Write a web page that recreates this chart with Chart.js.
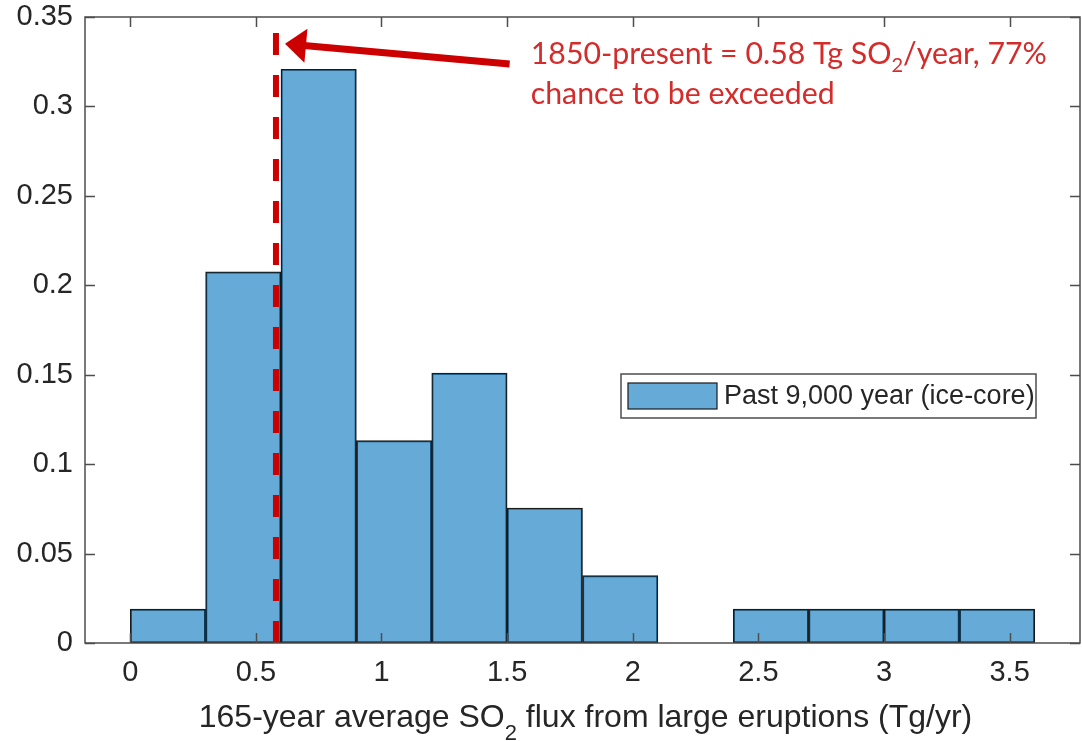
<!DOCTYPE html>
<html><head><meta charset="utf-8">
<script src="https://cdn.jsdelivr.net/npm/chart.js@4.4.1/dist/chart.umd.min.js"></script>
<style>html,body{margin:0;padding:0;background:#fff;}canvas{display:block;}</style>
</head><body>
<canvas id="c" width="1082" height="741"></canvas>
<script>
// ---- data ----
const binCenters = [0.15, 0.45, 0.75, 1.05, 1.35, 1.65, 1.95, 2.25, 2.55, 2.85, 3.15, 3.45];
const probabilities = [0.0189, 0.2075, 0.3208, 0.1132, 0.1509, 0.0755, 0.0377, 0, 0.0189, 0.0189, 0.0189, 0.0189];
const seriesLabel = 'Past 9,000 year (ice-core)';
const presentFlux = 0.58;
const xTicks = [0, 0.5, 1, 1.5, 2, 2.5, 3, 3.5];
const yTicks = [0, 0.05, 0.1, 0.15, 0.2, 0.25, 0.3, 0.35];
const xLimits = [-0.18, 3.78];
const yLimits = [0, 0.35];
const xTitleParts = [['165-year average SO', false], ['2', true], [' flux from large eruptions (Tg/yr)', false]];
const noteLine1 = [['1850-present = 0.58 Tg SO', false], ['2', true], ['/year, 77%', false]];
const noteLine2 = 'chance to be exceeded';
// annotation anchors (data units)
const arrowTail = [1.51, 0.3237];
const arrowTip = [0.616, 0.335];
const noteAnchor = [1.594, 0.3236];

// ---- styles ----
const axisFont = "'Liberation Sans', Arial, sans-serif";
const noteFontFamily = "Lato, 'Open Sans', sans-serif";
const ink = '#262626';
const barFill = 'rgba(0,114,189,0.6)';
const noteColor = '#d42b2b';
const arrowColor = '#cc0000';

function drawParts(ctx, parts, x, yBase, size, subSize, subDrop, family) {
  let cx = x;
  for (const [txt, sub] of parts) {
    ctx.font = (sub ? subSize : size) + 'px ' + family;
    ctx.fillText(txt, cx, yBase + (sub ? subDrop : 0));
    cx += ctx.measureText(txt).width;
  }
}
function partsWidth(ctx, parts, size, subSize, family) {
  let w = 0;
  for (const [txt, sub] of parts) {
    ctx.font = (sub ? subSize : size) + 'px ' + family;
    w += ctx.measureText(txt).width;
  }
  return w;
}

const decorations = {
  id: 'decorations',
  afterDatasetsDraw(chart) {
    const {ctx, chartArea: a, scales: {x, y}} = chart;
    ctx.save();
    // axes box
    ctx.strokeStyle = '#4d4d4d';
    ctx.lineWidth = 1.5;
    ctx.strokeRect(a.left, a.top, a.right - a.left, a.bottom - a.top);
    // inward ticks on all sides
    ctx.beginPath();
    const tl = 10;
    x.ticks.forEach(t => {
      const px = Math.round(x.getPixelForValue(t.value)) + 0.5;
      ctx.moveTo(px, a.bottom); ctx.lineTo(px, a.bottom - tl);
      ctx.moveTo(px, a.top); ctx.lineTo(px, a.top + tl);
    });
    y.ticks.forEach(t => {
      const py = Math.round(y.getPixelForValue(t.value)) + 0.5;
      ctx.moveTo(a.left, py); ctx.lineTo(a.left + tl, py);
      ctx.moveTo(a.right, py); ctx.lineTo(a.right - tl, py);
    });
    ctx.lineWidth = 1.5;
    ctx.stroke();

    // legend (from the histogram dataset)
    const ds = chart.data.datasets.find(d => d.type === 'bar');
    const lw = 415, lh = 44;
    const lx = a.right - 44 - lw, ly = 374;
    ctx.fillStyle = '#fff';
    ctx.fillRect(lx, ly, lw, lh);
    ctx.strokeStyle = '#4d4d4d'; ctx.lineWidth = 1.5;
    ctx.strokeRect(lx, ly, lw, lh);
    ctx.fillStyle = ds.backgroundColor;
    ctx.fillRect(lx + 7, ly + 9, 89, 26);
    ctx.strokeStyle = '#1a1a1a'; ctx.lineWidth = 1.2;
    ctx.strokeRect(lx + 7, ly + 9, 89, 26);
    ctx.fillStyle = ink;
    ctx.font = '27px ' + axisFont;
    ctx.textBaseline = 'middle';
    ctx.fillText(ds.label, lx + 103, ly + lh / 2 + 1);

    // x-axis title with subscript
    ctx.textBaseline = 'alphabetic';
    const tw = partsWidth(ctx, xTitleParts, 32, 22, axisFont);
    drawParts(ctx, xTitleParts, (a.left + a.right) / 2 - tw / 2 + 3, 727, 32, 22, 13, axisFont);

    // arrow
    const tx = x.getPixelForValue(arrowTip[0]), ty = y.getPixelForValue(arrowTip[1]);
    const sx = x.getPixelForValue(arrowTail[0]), sy = y.getPixelForValue(arrowTail[1]);
    const dx = sx - tx, dy = sy - ty, len = Math.hypot(dx, dy);
    const ux = dx / len, uy = dy / len, nx = -uy, ny = ux;
    const headLen = 21, headHalf = 17;
    const bx = tx + ux * headLen, by = ty + uy * headLen;
    ctx.strokeStyle = arrowColor; ctx.fillStyle = arrowColor;
    ctx.lineWidth = 7; ctx.lineCap = 'butt';
    ctx.beginPath(); ctx.moveTo(bx - ux * 2, by - uy * 2); ctx.lineTo(sx, sy); ctx.stroke();
    ctx.beginPath();
    ctx.moveTo(tx, ty);
    ctx.lineTo(bx + nx * headHalf, by + ny * headHalf);
    ctx.lineTo(bx - nx * headHalf, by - ny * headHalf);
    ctx.closePath(); ctx.fill();

    // annotation text
    ctx.fillStyle = noteColor;
    const nx0 = x.getPixelForValue(noteAnchor[0]), ny0 = y.getPixelForValue(noteAnchor[1]);
    drawParts(ctx, noteLine1, nx0, ny0, 30.3, 20, 8, noteFontFamily);
    ctx.font = '30.3px ' + noteFontFamily;
    ctx.fillText(noteLine2, nx0, ny0 + 40);
    ctx.restore();
  }
};

const zeroPad = s => { s.paddingTop = 0; s.paddingBottom = 0; s.paddingLeft = 0; s.paddingRight = 0; };

new Chart(document.getElementById('c'), {
  data: {
    datasets: [
      {
        type: 'line',
        label: '1850-present',
        data: [{x: presentFlux, y: yLimits[0]}, {x: presentFlux, y: yLimits[1]}],
        borderColor: arrowColor,
        borderWidth: 6,
        borderDash: [22, 20],
        borderCapStyle: 'butt',
        pointRadius: 0,
        fill: false,
        order: 0
      },
      {
        type: 'bar',
        label: seriesLabel,
        data: binCenters.map((c, i) => ({x: c, y: probabilities[i]})),
        backgroundColor: barFill,
        borderColor: '#1a1a1a',
        borderWidth: 1.3,
        borderSkipped: false,
        barPercentage: 1,
        categoryPercentage: 1,
        order: 1
      }
    ]
  },
  options: {
    responsive: false,
    devicePixelRatio: 1,
    animation: false,
    layout: {padding: {top: 17, right: 2, left: 0, bottom: 0}},
    plugins: {legend: {display: false}, tooltip: {enabled: false}},
    scales: {
      x: {
        type: 'linear',
        offset: false,
        min: xLimits[0], max: xLimits[1],
        grid: {display: false, drawTicks: false, offset: false},
        border: {display: false},
        afterBuildTicks: s => { s.ticks = xTicks.map(v => ({value: v})); },
        afterFit: s => { s.height = 98; zeroPad(s); },
        ticks: {
          color: ink, font: {family: axisFont, size: 29}, padding: 13,
          maxRotation: 0, autoSkip: false,
          callback: v => String(+(+v).toFixed(2))
        }
      },
      y: {
        type: 'linear',
        min: yLimits[0], max: yLimits[1],
        grid: {display: false, drawTicks: false},
        border: {display: false},
        afterBuildTicks: s => { s.ticks = yTicks.map(v => ({value: v})); },
        afterFit: s => { s.width = 85; zeroPad(s); },
        ticks: {
          color: ink, font: {family: axisFont, size: 29}, padding: 12,
          autoSkip: false,
          callback: v => String(+(+v).toFixed(2))
        }
      }
    }
  },
  plugins: [decorations]
});
</script>
</body></html>
